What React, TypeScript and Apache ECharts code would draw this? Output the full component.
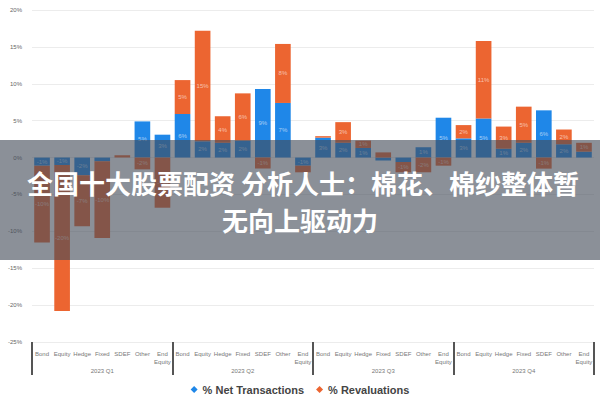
import * as echarts from 'echarts';
import { useEffect, useRef } from 'react';

const subCategories = ['Bond', 'Equity', 'Hedge', 'Fixed', 'SDEF', 'Other', 'End\nEquity'];
const quarters = ['2023 Q1', '2023 Q2', '2023 Q3', '2023 Q4'];

const netTransactions = [
  -1.1, -1.0, -2.4, -0.5, 0, 4.9, 3.1,
  5.9, 2.2, 2.0, 2.3, 9.3, 7.4, -1.1,
  2.7, 2.0, 1.3, -0.4, -0.6, 1.4, 5.4,
  2.6, 5.3, 1.2, 2.0, 6.4, 1.8, 0.8,
];

const revaluations = [
  -10.4, -19.8, -6.9, -10.4, 0.3, -1.6, -6.8,
  4.6, 15.0, 3.6, 6.4, -1.5, 8.0, -0.9,
  0.2, 2.8, 1.0, 0.7, -1.4, -2.0, -1.1,
  1.8, 10.5, 3.0, 4.9, -1.5, 2.0, 1.2,
];

const headline = ['全国十大股票配资 分析人士：棉花、棉纱整体暂', '无向上驱动力'];

const BLUE = '#1f87e8';
const ORANGE = '#ec6531';

const categories = quarters.flatMap(() => subCategories);

const barLabel = {
  show: true,
  position: 'inside' as const,
  fontSize: 6,
  color: 'rgba(255,255,255,0.6)',
  formatter: (p: any) => (Math.abs(p.value) < 1 ? '' : Math.round(p.value) + '%'),
};

export default function App() {
  const chartRef = useRef<HTMLDivElement>(null);

  useEffect(() => {
    if (!chartRef.current) return;
    const chart = echarts.init(chartRef.current, null, { renderer: 'svg' });

    const option: echarts.EChartsOption = {
      animation: false,
      textStyle: { fontFamily: 'Liberation Sans' },
      grid: { left: 32, right: 6, top: 10, bottom: 58 },
      legend: {
        bottom: 0,
        icon: 'diamond',
        itemWidth: 7,
        itemHeight: 7,
        itemGap: 12,
        textStyle: { fontSize: 11, fontWeight: 'bold', color: '#444' },
        data: ['% Net Transactions', '% Revaluations'],
      },
      xAxis: [
        {
          type: 'category',
          data: categories,
          axisLine: { show: false },
          axisTick: { show: false },
          axisLabel: { interval: 0, fontSize: 6, color: '#777', margin: 8, lineHeight: 8 },
        },
        {
          type: 'category',
          data: quarters,
          position: 'bottom',
          axisLine: { show: false },
          axisTick: { show: true, length: 33, lineStyle: { width: 2, color: '#555' } },
          axisLabel: { interval: 0, fontSize: 6, color: '#777', margin: 26 },
        },
      ],
      yAxis: {
        type: 'value',
        min: -25,
        max: 20,
        interval: 5,
        axisLabel: { formatter: '{value}%', fontSize: 6, color: '#666', margin: 10 },
        axisLine: { show: false },
        axisTick: { show: false },
        splitLine: { lineStyle: { color: '#ececec' } },
      },
      series: [
        {
          name: '% Net Transactions',
          type: 'bar',
          stack: 'total',
          xAxisIndex: 0,
          barCategoryGap: '22%',
          data: netTransactions,
          itemStyle: { color: BLUE },
          label: barLabel,
        },
        {
          name: '% Revaluations',
          type: 'bar',
          stack: 'total',
          xAxisIndex: 0,
          barCategoryGap: '22%',
          data: revaluations,
          itemStyle: { color: ORANGE },
          label: barLabel,
        },
      ],
      graphic: [
        {
          type: 'rect',
          left: 0,
          top: 140,
          z: 100,
          shape: { width: 600, height: 120 },
          style: { fill: 'rgba(68,76,88,0.62)' },
        },
        {
          type: 'text',
          x: 303,
          y: 182,
          z: 101,
          style: {
            text: headline[0],
            fill: '#fff',
            font: 'bold 26px "Noto Sans CJK SC"',
            textAlign: 'center',
            textVerticalAlign: 'middle',
          },
        },
        {
          type: 'text',
          x: 300,
          y: 219,
          z: 101,
          style: {
            text: headline[1],
            fill: '#fff',
            font: 'bold 26px "Noto Sans CJK SC"',
            textAlign: 'center',
            textVerticalAlign: 'middle',
          },
        },
      ],
    };

    chart.setOption(option);
    return () => {
      chart.dispose();
    };
  }, []);

  return (
    <div
      ref={chartRef}
      style={{ position: 'fixed', left: 0, top: 0, width: 600, height: 400, background: '#fff' }}
    />
  );
}
